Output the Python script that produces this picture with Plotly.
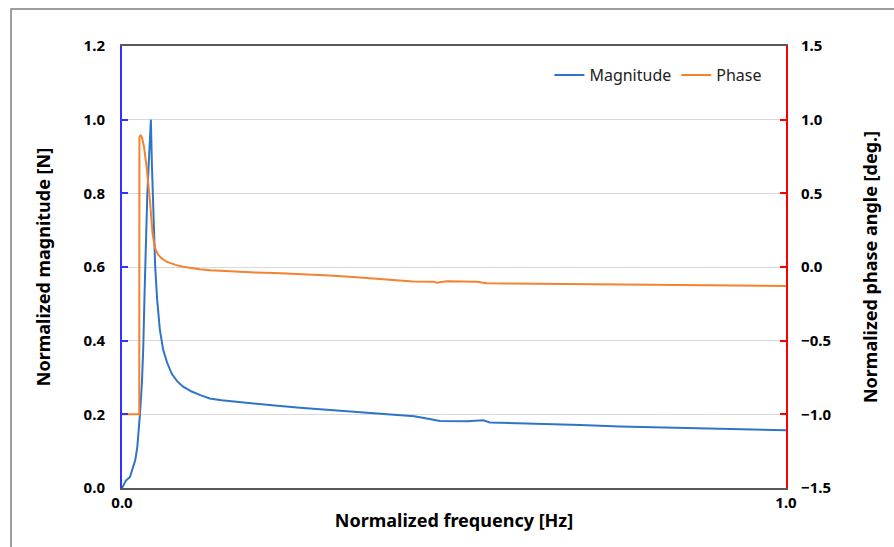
import plotly.graph_objects as go

# Magnitude (left axis)
mag_x = [0.0, 0.006, 0.012, 0.016, 0.020, 0.023, 0.025, 0.027, 0.030, 0.032, 0.034,
         0.036, 0.038, 0.040, 0.042, 0.0435, 0.045, 0.047, 0.050, 0.053, 0.057,
         0.062, 0.068, 0.075, 0.083, 0.092, 0.105, 0.118, 0.132, 0.150, 0.170,
         0.193, 0.230, 0.268, 0.305, 0.343, 0.389, 0.426, 0.440, 0.455, 0.479,
         0.52, 0.538, 0.544, 0.554, 0.62, 0.69, 0.75, 0.85, 0.93, 1.0]
mag_y = [0.0, 0.02, 0.03, 0.05, 0.076, 0.11, 0.149, 0.20, 0.285, 0.38, 0.53,
         0.69, 0.79, 0.87, 0.95, 1.0, 0.88, 0.74, 0.60, 0.51, 0.43,
         0.375, 0.34, 0.31, 0.29, 0.275, 0.262, 0.252, 0.243, 0.238, 0.234,
         0.230, 0.224, 0.218, 0.213, 0.208, 0.200, 0.197, 0.195, 0.190, 0.182,
         0.181, 0.182, 0.184, 0.178, 0.175, 0.171, 0.167, 0.163, 0.160, 0.157]

# Phase (right axis)
ph_x = [0.0, 0.026, 0.0262, 0.028, 0.030, 0.033, 0.037, 0.040, 0.042, 0.044,
        0.046, 0.0487, 0.051, 0.0547, 0.060, 0.067, 0.075, 0.083, 0.092, 0.105,
        0.117, 0.1325, 0.160, 0.193, 0.230, 0.268, 0.305, 0.343, 0.389, 0.438,
        0.470, 0.474, 0.489, 0.534, 0.549, 0.62, 0.69, 0.85, 1.0]
ph_y = [-1.0, -1.0, 0.88, 0.896, 0.88, 0.82, 0.681, 0.56, 0.455, 0.34,
        0.23, 0.15, 0.115, 0.082, 0.058, 0.036, 0.022, 0.011, 0.002, -0.008,
        -0.015, -0.022, -0.030, -0.036, -0.041, -0.047, -0.056, -0.066, -0.083, -0.098,
        -0.100, -0.106, -0.097, -0.100, -0.110, -0.113, -0.117, -0.124, -0.129]

x_ticks = [0.0, 1.0]
x_ticktext = ["0.0", "1.0"]
left_ticks = [0.0, 0.2, 0.4, 0.6, 0.8, 1.0, 1.2]
right_ticks = [-1.5, -1.0, -0.5, 0.0, 0.5, 1.0, 1.5]

FONT = "Noto Sans"

fig = go.Figure()
fig.add_trace(go.Scatter(x=mag_x, y=mag_y, mode="lines", name="Magnitude",
                         line=dict(color="#2E75C8", width=2)))
fig.add_trace(go.Scatter(x=ph_x, y=ph_y, mode="lines", name="Phase", yaxis="y2",
                         line=dict(color="#F7812F", width=2)))

fig.update_layout(
    width=894, height=547,
    margin=dict(l=122, r=108, t=46, b=59),
    plot_bgcolor="white", paper_bgcolor="white",
    font=dict(family=FONT, color="black"),
    showlegend=True,
    legend=dict(orientation="h", x=0.972, xanchor="right", y=0.934, yanchor="middle",
                font=dict(size=16, family=FONT, color="#222"), bgcolor="rgba(0,0,0,0)",
                itemwidth=30, tracegroupgap=0),
    xaxis=dict(range=[0, 1], tickvals=x_ticks, ticktext=x_ticktext,
               showgrid=False, zeroline=False, showline=True, mirror=True,
               linecolor="#595959", linewidth=1.5, ticks="",
               tickfont=dict(size=15, family=FONT, weight="bold"),
               title=dict(text="<b>Normalized frequency [Hz]</b>", font=dict(size=18, family=FONT),
                          standoff=4)),
    yaxis=dict(range=[0, 1.2], tickvals=left_ticks, tickformat=".1f",
               showgrid=True, gridcolor="#D9D9D9", gridwidth=1, zeroline=False,
               showline=True, linecolor="#3333FF", linewidth=2,
               ticks="inside", ticklen=6, tickcolor="#3333FF", tickwidth=2,
               tickfont=dict(size=15, family=FONT, weight="bold"),
               ticklabelstandoff=12,
               title=dict(text="<b>Normalized magnitude [N]</b>", font=dict(size=18, family=FONT),
                          standoff=28)),
    yaxis2=dict(range=[-1.5, 1.5], tickvals=right_ticks, tickformat=".1f",
                overlaying="y", side="right", showgrid=False, zeroline=False,
                showline=True, linecolor="#FF0000", linewidth=2,
                ticks="inside", ticklen=6, tickcolor="#FF0000", tickwidth=2,
                tickfont=dict(size=15, family=FONT, weight="bold"),
                ticklabelstandoff=10,
                title=dict(text="<b>Normalized phase angle [deg.]</b>", font=dict(size=18, family=FONT),
                           standoff=34)),
)

# outer chart border (left and top visible)
fig.add_shape(type="rect", xref="paper", yref="paper",
              x0=(11 - 122) / 664, x1=1.3, y0=-0.3, y1=(488 - 9) / 442,
              line=dict(color="#7F7F7F", width=1.5), fillcolor="rgba(0,0,0,0)", layer="below")

fig.write_html("out.html")
